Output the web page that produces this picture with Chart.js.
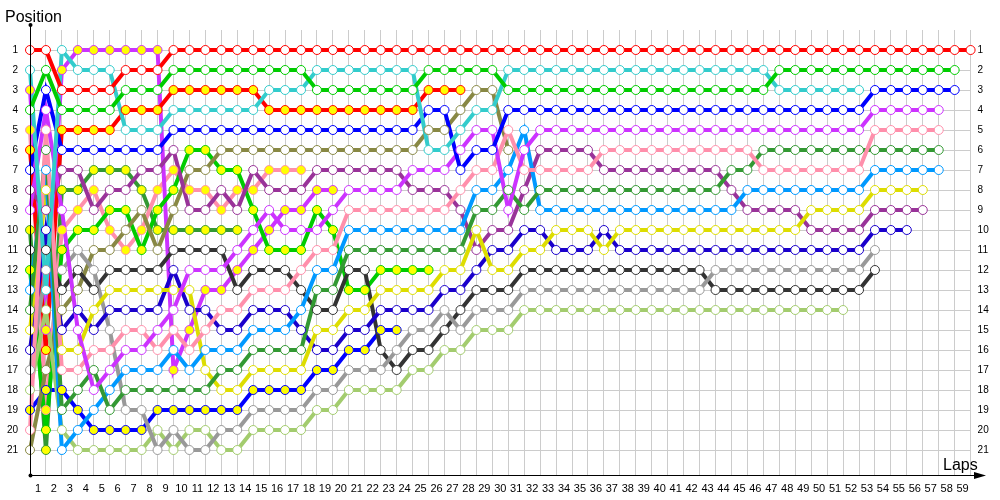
<!DOCTYPE html>
<html>
<head>
<meta charset="utf-8">
<script src="https://cdn.jsdelivr.net/npm/chart.js@4.4.0/dist/chart.umd.min.js"></script>
<style>
  html, body { margin: 0; padding: 0; background: #fff; }
</style>
</head>
<body>
<canvas id="chart" width="1000" height="500"></canvas>
<script>
// lap numbers (0 = starting grid)
const laps = ['0','1','2','3','4','5','6','7','8','9',
  '10','11','12','13','14','15','16','17','18','19',
  '20','21','22','23','24','25','26','27','28','29',
  '30','31','32','33','34','35','36','37','38','39',
  '40','41','42','43','44','45','46','47','48','49',
  '50','51','52','53','54','55','56','57','58','59'];
const positions = [1,2,3,4,5,6,7,8,9,10,11,12,13,14,15,16,17,18,19,20,21];

// position per lap, one row per 10 laps
const redA = [1,1,3,3,3,3,2,2,2,1, 1,1,1,1,1,1,1,1,1,1, 1,1,1,1,1,1,1,1,1,1,
  1,1,1,1,1,1,1,1,1,1, 1,1,1,1,1,1,1,1,1,1, 1,1,1,1,1,1,1,1,1,1];
const greenA = [4,2,4,4,4,4,3,3,3,2, 2,2,2,2,2,2,2,2,3,3, 3,3,3,3,3,2,2,2,2,2,
  3,3,3,3,3,3,3,3,3,3, 3,3,3,3,3,3,3,2,2,2, 2,2,2,2,2,2,2,2,2];
const cyan = [2,13,1,2,2,2,5,5,5,4, 4,4,4,4,4,3,3,3,2,2, 2,2,2,2,2,6,6,5,4,4,
  2,2,2,2,2,2,2,2,2,2, 2,2,2,2,2,2,2,3,3,3, 3,3,3];
const blueA = [7,3,6,6,6,6,6,6,6,5, 5,5,5,5,5,5,5,5,5,5, 5,5,5,5,5,4,4,7,6,6,
  4,4,4,4,4,4,4,4,4,4, 4,4,4,4,4,4,4,4,4,4, 4,4,4,3,3,3,3,3,3];
const violetA = [3,15,2,1,1,1,1,1,1,17, 15,13,13,12,11,10,9,9,8,8];
const violetB = [9,4,9,15,18,17,16,16,15,14, 12,12,12,11,10,9,10,10,10,9, 8,8,8,8,7,7,7,6,5,5,
  9,6,5,5,5,5,5,5,5,5, 5,5,5,5,5,5,5,5,5,5, 5,5,5,4,4,4,4,4];
const pinkA = [5,19,10,9,8,10,11,10,8,7, 8,8,9,8,8,7,7,7];
const redB = [6,16,5,5,5,5,4,4,4,3, 3,3,3,3,3,4,4,4,4,4, 4,4,4,4,4,3,3,3];
const purple = [8,9,7,7,9,8,8,7,7,6, 9,9,8,9,7,8,8,8,7,7, 7,7,7,7,8,8,8,9,11,10,
  10,8,6,6,6,6,7,7,7,7, 7,7,7,7,8,9,9,9,9,10, 10,10,10,9,9,9,9];
const dkGreenA = [10,21,8,8,7,7,7,8,10,10, 10,10,10,10];
const dkGray = [11,11,13,12,13,12,12,12,12,11, 11,11,11,13,12,12,12,13,14,14, 12,12,16,17,16,16,15,14,13,13,
  13,12,12,12,12,12,12,12,12,12, 12,12,12,13,13,13,13,13,13,13, 13,13,13,12];
const greenB = [12,20,11,10,10,9,9,11,9,8, 6,6,7,7,9,11,11,11,9,10, 13,13,12,12,12,12];
const ltBlue = [13,7,21,20,19,18,17,17,17,16, 17,16,16,16,15,15,15,14,12,12, 10,10,10,10,10,10,10,10,8,8,
  7,5,9,9,9,9,9,9,9,9, 9,9,9,9,9,8,8,8,8,8, 8,8,8,7,7,7,7,7];
const dkGreenB = [14,6,19,18,17,19,18,18,18,18, 18,18,17,17,16,16,16,16,13,13, 11,11,11,11,11,11,11,11,9,9,
  8,9,8,8,8,8,8,8,8,8, 8,8,8,8,7,7,6,6,6,6, 6,6,6,6,6,6,6,6];
const yellow = [15,8,16,16,14,13,13,13,13,13, 13,17,18,18,17,17,17,17,15,15, 14,14,13,13,13,13,12,12,10,12,
  12,11,11,10,10,10,11,10,10,10, 10,10,10,10,10,10,10,10,10,9, 9,9,9,8,8,8,8];
const navy = [16,10,15,14,15,14,14,14,14,12, 14,14,15,15,14,14,14,15,16,16, 15,15,14,14,14,14,13,13,12,11,
  11,10,10,11,11,11,10,11,11,11, 11,11,11,11,11,11,11,11,11,11, 11,11,11,10,10,10];
const gray = [17,12,12,11,12,15,19,19,21,20, 21,21,20,20,19,19,19,19,18,18, 17,17,17,16,15,15,14,15,14,14,
  14,13,13,13,13,13,13,13,13,13, 13,13,13,12,12,12,12,12,12,12, 12,12,12,11];
const ltGreen = [18,14,20,21,21,21,21,21,20,21, 20,20,21,21,20,20,20,20,19,19, 18,18,18,18,17,17,16,16,15,15,
  15,14,14,14,14,14,14,14,14,14, 14,14,14,14,14,14,14,14,14,14, 14,14];
const blueB = [19,18,18,19,20,20,20,20,19,19, 19,19,19,19,18,18,18,18,17,17, 16,16,15,15];
const pinkB = [20,5,17,17,16,16,15,15,16,15, 16,15,14,14,13,13,13,12,11,11, 9,9,9,9,9,9,9,8,7,7,
  5,7,7,7,7,7,6,6,6,6, 6,6,6,6,6,6,7,7,7,7, 7,7,7,5,5,5,5,5];
const olive = [21,17,14,13,11,11,10,9,11,9, 7,7,6,6,6,6,6,6,6,6, 6,6,6,6,6,5,5,4,3,3, 6];

const drivers = [
  { data: redA, color: '#ff0000', fill: '#ffffff' },
  { data: greenA, color: '#00cc00', fill: '#ffffff' },
  { data: cyan, color: '#33cccc', fill: '#ffffff' },
  { data: blueA, color: '#0000ff', fill: '#ffffff' },
  { data: violetB, color: '#cc33ff', fill: '#ffffff' },
  { data: pinkB, color: '#ff8fab', fill: '#ffffff' },
  { data: dkGreenB, color: '#339933', fill: '#ffffff' },
  { data: ltBlue, color: '#0099ff', fill: '#ffffff' },
  { data: yellow, color: '#dddd00', fill: '#ffffff' },
  { data: purple, color: '#993399', fill: '#ffffff' },
  { data: navy, color: '#1a00cc', fill: '#ffffff' },
  { data: gray, color: '#999999', fill: '#ffffff' },
  { data: dkGray, color: '#333333', fill: '#ffffff' },
  { data: ltGreen, color: '#a3cc6e', fill: '#ffffff' },
  { data: olive, color: '#888844', fill: '#ffffff' },
  { data: redB, color: '#ff0000', fill: '#ffff00' },
  { data: greenB, color: '#00cc00', fill: '#ffff00' },
  { data: violetA, color: '#cc33ff', fill: '#ffff00' },
  { data: pinkA, color: '#ff8fab', fill: '#ffff00' },
  { data: dkGreenA, color: '#339933', fill: '#ffff00' },
  { data: blueB, color: '#0000ff', fill: '#ffff00' }
];

const FONT = "'Liberation Sans', Arial, sans-serif";

// lines first (under), markers on top of all lines
const datasets = [];
drivers.forEach(d => {
  datasets.push({
    data: d.data, borderColor: d.color, borderWidth: 4, pointRadius: 0,
    tension: 0, order: 2, clip: false
  });
});
drivers.forEach(d => {
  datasets.push({
    data: d.data, showLine: false, pointRadius: 4.5, pointBorderWidth: 1,
    pointBorderColor: d.color, pointBackgroundColor: d.fill, order: 1, clip: false
  });
});

const decor = {
  id: 'decor',
  afterDraw(chart) {
    const c = chart.ctx;
    const a = chart.chartArea;
    c.save();
    c.strokeStyle = '#000';
    c.fillStyle = '#000';
    c.lineWidth = 1;
    // y axis with arrow dot
    c.beginPath();
    c.moveTo(a.left + 0.5, 25);
    c.lineTo(a.left + 0.5, a.bottom);
    c.stroke();
    c.beginPath();
    c.arc(a.left + 0.5, 25, 2, 0, Math.PI * 2);
    c.fill();
    c.beginPath();
    c.arc(a.left + 0.5, a.bottom + 0.5, 2, 0, Math.PI * 2);
    c.fill();
    // x axis with arrow head
    c.beginPath();
    c.moveTo(a.left, a.bottom + 0.5);
    c.lineTo(980, a.bottom + 0.5);
    c.stroke();
    c.beginPath();
    c.moveTo(986, a.bottom + 0.5);
    c.lineTo(974, a.bottom - 3);
    c.lineTo(974, a.bottom + 4);
    c.closePath();
    c.fill();
    // axis titles
    c.font = '16px ' + FONT;
    c.textBaseline = 'alphabetic';
    c.textAlign = 'left';
    c.fillText('Position', 5, 22);
    c.fillText('Laps', 943, 470);
    c.restore();
  }
};

new Chart(document.getElementById('chart'), {
  type: 'line',
  data: { labels: laps, datasets: datasets },
  options: {
    responsive: false,
    animation: false,
    layout: { padding: { top: 30, left: 0, right: 0, bottom: 0 } },
    plugins: { legend: { display: false }, tooltip: { enabled: false } },
    scales: {
      x: {
        type: 'category',
        offset: false,
        grid: { color: '#cccccc', drawTicks: false },
        border: { display: false },
        ticks: {
          autoSkip: false, maxRotation: 0, minRotation: 0,
          labelOffset: -8, padding: 7, color: '#000',
          font: { family: FONT, size: 11 },
          callback: (v, i) => (i === 0 ? '' : laps[i])
        },
        afterFit: s => { s.height = 25; }
      },
      y: {
        type: 'linear', position: 'left', reverse: true, min: 0, max: 22.25,
        afterBuildTicks: s => { s.ticks = positions.map(v => ({ value: v })); },
        grid: { color: '#cccccc', drawTicks: false },
        border: { display: false },
        ticks: { padding: 12, color: '#000', font: { family: FONT, size: 10 } },
        afterFit: s => { s.width = 30; }
      },
      y2: {
        type: 'linear', position: 'right', reverse: true, min: 0, max: 22.25,
        afterBuildTicks: s => { s.ticks = positions.map(v => ({ value: v })); },
        grid: { display: false, drawTicks: false },
        border: { display: false },
        ticks: { padding: 7, color: '#000', font: { family: FONT, size: 10 } },
        afterFit: s => { s.width = 29.4; }
      }
    }
  },
  plugins: [decor]
});
</script>
</body>
</html>
